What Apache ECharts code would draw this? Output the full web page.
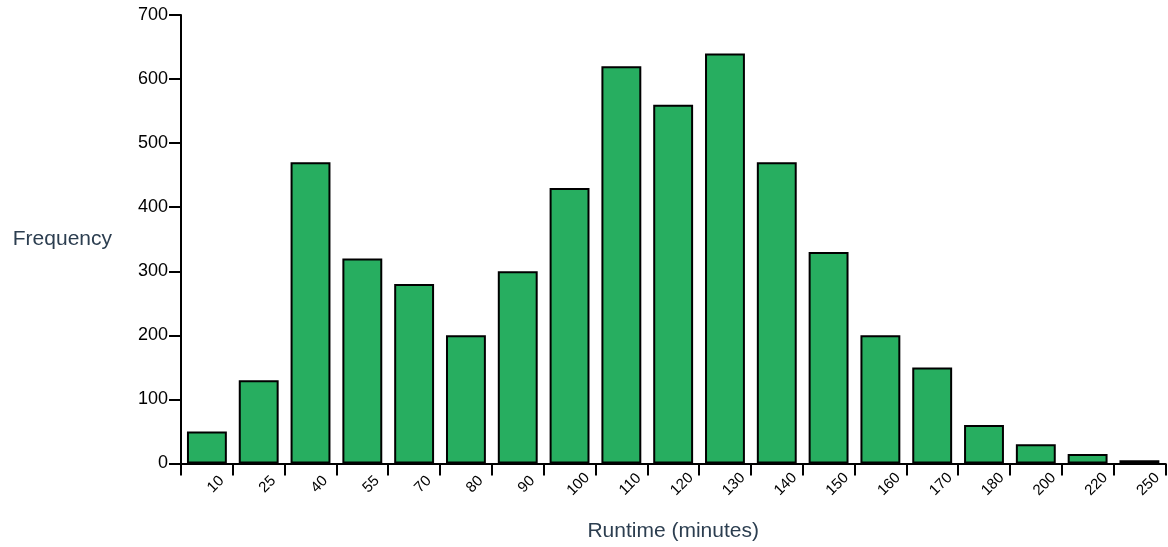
<!DOCTYPE html>
<html>
<head>
<meta charset="utf-8">
<script src="https://cdn.jsdelivr.net/npm/echarts@6/dist/echarts.min.js"></script>
<style>html,body{margin:0;padding:0;background:#fff}#c{width:1168px;height:547px}</style>
</head>
<body>
<div id="c"></div>
<script>
const categories = ['10','25','40','55','70','80','90','100','110','120','130','140','150','160','170','180','200','220','250'];
const frequency = [50,130,470,320,280,200,300,430,620,560,640,470,330,200,150,60,30,15,5];
const yTicks = {min: 0, max: 700, interval: 100};

const chart = echarts.init(document.getElementById('c'));
chart.setOption({
  animation: false,
  grid: {left: 181, top: 15, right: 0, bottom: 80, containLabel: false},
  xAxis: {
    type: 'category',
    data: categories,
    name: 'Runtime (minutes)',
    nameLocation: 'middle',
    nameGap: 68,
    nameTextStyle: {color: '#2c3e50', fontSize: 21, fontFamily: 'Liberation Sans', verticalAlign: 'middle'},
    axisLine: {lineStyle: {color: '#000', width: 2}},
    axisTick: {show: true, length: 12, lineStyle: {color: '#000', width: 2}},
    axisLabel: {
      rotate: 45, color: '#000', fontSize: 15, fontFamily: 'Liberation Sans',
      margin: 12, align: 'center', verticalAlign: 'middle', lineHeight: 25,
      formatter: function (v) { return '\n' + v; }
    }
  },
  yAxis: {
    type: 'value',
    min: yTicks.min, max: yTicks.max, interval: yTicks.interval,
    name: 'Frequency',
    nameLocation: 'middle',
    nameRotate: 0,
    nameGap: 69,
    nameTextStyle: {color: '#2c3e50', fontSize: 21, fontFamily: 'Liberation Sans', padding: [0, 0, 14, 0]},
    axisLine: {show: true, lineStyle: {color: '#000', width: 2}},
    axisTick: {show: true, length: 12, lineStyle: {color: '#000', width: 2}},
    splitLine: {show: false},
    axisLabel: {color: '#000', fontSize: 18, fontFamily: 'Liberation Sans', margin: 13}
  },
  series: [{
    type: 'bar',
    data: frequency,
    barCategoryGap: '23%',
    itemStyle: {color: '#27ae60', borderColor: '#000', borderWidth: 2}
  }]
});
</script>
</body>
</html>
